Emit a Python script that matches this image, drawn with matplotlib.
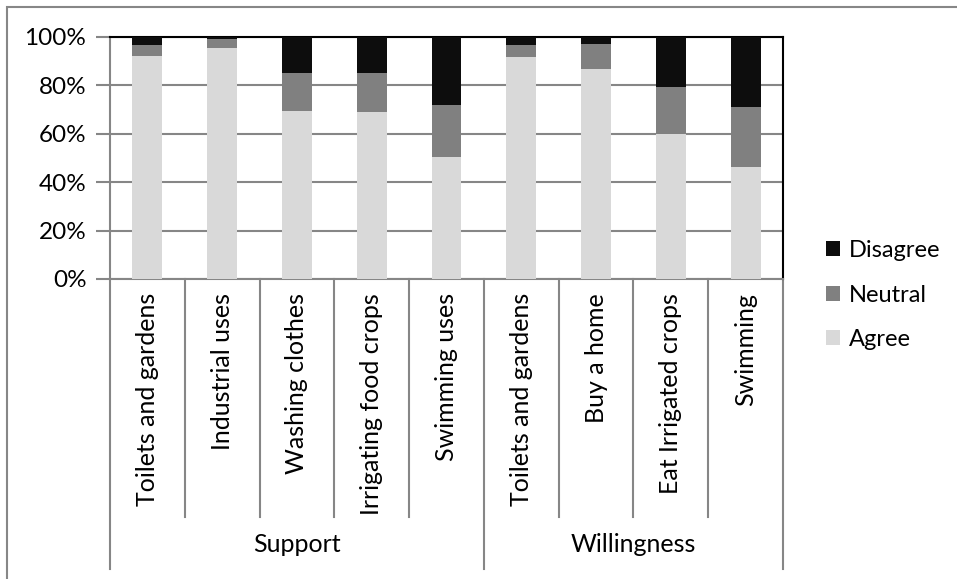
import matplotlib
matplotlib.use('Agg')
import matplotlib.pyplot as plt
from matplotlib.patches import Rectangle
from matplotlib.lines import Line2D
import matplotlib.transforms as mtransforms

# Survey responses (percent of respondents)
categories = ['Toilets and gardens', 'Industrial uses', 'Washing clothes',
              'Irrigating food crops', 'Swimming uses',
              'Toilets and gardens', 'Buy a home', 'Eat Irrigated crops', 'Swimming']
groups = ['Support', 'Willingness']
group_sizes = [5, 4]
agree = [92.0, 95.6, 69.5, 69.0, 50.6, 91.7, 86.6, 59.9, 46.1]
neutral = [4.9, 3.6, 15.6, 16.0, 21.5, 4.9, 10.7, 19.4, 24.9]
disagree = [100 - a - n for a, n in zip(agree, neutral)]

plt.rcParams['font.family'] = ['Lato', 'DejaVu Sans']
FS = 18
GRAY = '#868686'

fig = plt.figure(figsize=(9.57, 5.79), dpi=100)
W, H = 957, 579
ax = fig.add_axes([110 / W, 1 - 279 / H, 673 / W, 242 / H])

x = list(range(len(categories)))
ax.bar(x, agree, width=0.4, color='#d9d9d9', label='Agree', zorder=3)
ax.bar(x, neutral, width=0.4, bottom=agree, color='#808080', label='Neutral', zorder=3)
bottom2 = [a + n for a, n in zip(agree, neutral)]
ax.bar(x, disagree, width=0.4, bottom=bottom2, color='#0d0d0d', label='Disagree', zorder=3)

ax.set_xlim(-0.5, len(categories) - 0.5)
ax.set_ylim(0, 100)
ax.set_yticks(range(0, 101, 20))
ax.set_yticklabels([f'{v}%' for v in range(0, 101, 20)], fontsize=17.5)
ax.yaxis.grid(True, color=GRAY, linewidth=1.5, zorder=0)
ax.set_xticks([])
ax.tick_params(axis='y', length=10, width=1.5, color=GRAY, pad=7)

for s in ['left', 'bottom']:
    ax.spines[s].set_color(GRAY)
    ax.spines[s].set_linewidth(1.5)
for s in ['top', 'right']:
    ax.spines[s].set_color('black')
    ax.spines[s].set_linewidth(1.5)

# multi-level category axis
trans = mtransforms.blended_transform_factory(ax.transData, ax.transAxes)
inner_bottom = -(517 - 279) / 242
outer_bottom = -(569 - 279) / 242
edges = [0]
for g in group_sizes:
    edges.append(edges[-1] + g)
for i in range(len(categories) + 1):
    yb = outer_bottom if i in edges else inner_bottom
    ax.add_line(Line2D([i - 0.5, i - 0.5], [0, yb], transform=trans,
                       color=GRAY, linewidth=1.5, clip_on=False))
for i, lab in enumerate(categories):
    ax.text(i, -(293 - 279) / 242, lab, transform=trans, rotation=90,
            ha='center', va='top', fontsize=FS)
for g, lab in enumerate(groups):
    mid = (edges[g] + edges[g + 1] - 1) / 2
    ax.text(mid, -(545 - 279) / 242, lab, transform=trans,
            ha='center', va='center', fontsize=FS)

handles, labels = ax.get_legend_handles_labels()
fig.legend(handles[::-1], labels[::-1], loc='center left',
           bbox_to_anchor=(805 / W, 1 - 295 / H), frameon=False, fontsize=17,
           handlelength=0.6, handleheight=0.6, handletextpad=0.35,
           labelspacing=1.0)

# chart area border
fig.add_artist(Rectangle((7 / W, -0.1), 1.2, 1.1 - 7 / H, transform=fig.transFigure,
                         fill=False, edgecolor='#878787', linewidth=1.5))

fig.savefig('out.png', dpi=100)
